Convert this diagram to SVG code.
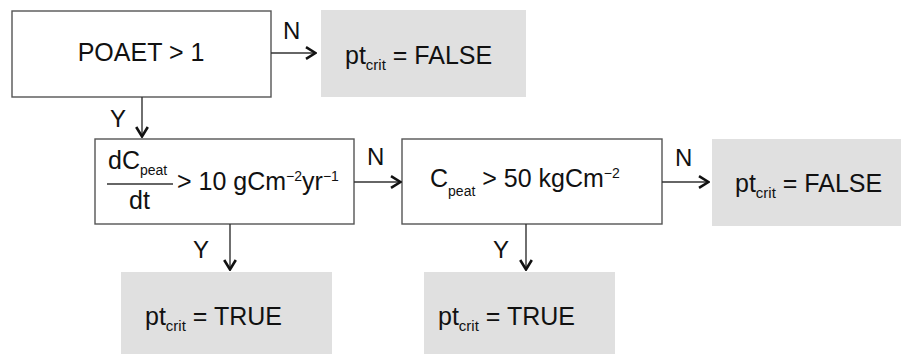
<svg xmlns="http://www.w3.org/2000/svg" width="903" height="354" viewBox="0 0 903 354">
<defs>
<style>
text{font-family:"Liberation Sans",Arial,sans-serif;fill:#111;font-size:25px}
.box{fill:#fff;stroke:#555;stroke-width:1.4}
.res{fill:#e0e0e0;stroke:none}
.con{stroke:#333;stroke-width:1.4;fill:none}
.lbl{font-size:24px}
.sub{font-size:15px}
.sm{font-size:14px}
</style>
<marker id="ah" viewBox="0 0 12 14" markerWidth="12" markerHeight="14" refX="11" refY="7" orient="auto" markerUnits="userSpaceOnUse">
<path d="M1,1.2 L10.5,7 L1,12.8" fill="none" stroke="#111" stroke-width="2.6"/>
</marker>
</defs>
<rect width="903" height="354" fill="#fff"/>
<g id="n1">
<rect class="box" x="12" y="11" width="259" height="86"/>
<text x="141" y="61" text-anchor="middle">POAET &gt; 1</text>
</g>
<g id="r1">
<rect class="res" x="321" y="10" width="205" height="87"/>
<text x="345" y="64">pt<tspan class="sub" dy="6">crit</tspan><tspan dy="-6"> = FALSE</tspan></text>
</g>
<g id="n2">
<rect class="box" x="95" y="139" width="259" height="85"/>
<text x="108" y="169">dC<tspan class="sm" dy="6">peat</tspan></text>
<line x1="107" y1="184" x2="173" y2="184" stroke="#333" stroke-width="1.4"/>
<text x="129" y="209">dt</text>
<text x="177" y="190">&gt; 10 gCm<tspan class="sm" dy="-9">−2</tspan><tspan dy="9">yr</tspan><tspan class="sm" dy="-9">−1</tspan></text>
</g>
<g id="n3">
<rect class="box" x="402" y="139" width="260" height="85"/>
<text x="430" y="187">C<tspan class="sm" dy="9">peat</tspan><tspan dy="-9"> &gt; 50 kgCm</tspan><tspan class="sm" dy="-9">−2</tspan></text>
</g>
<g id="r2">
<rect class="res" x="712" y="139" width="189" height="87"/>
<text x="735" y="192">pt<tspan class="sub" dy="6">crit</tspan><tspan dy="-6"> = FALSE</tspan></text>
</g>
<g id="r3">
<rect class="res" x="121" y="272" width="211" height="87"/>
<text x="145" y="325">pt<tspan class="sub" dy="6">crit</tspan><tspan dy="-6"> = TRUE</tspan></text>
</g>
<g id="r4">
<rect class="res" x="424" y="272" width="191" height="87"/>
<text x="438" y="325">pt<tspan class="sub" dy="6">crit</tspan><tspan dy="-6"> = TRUE</tspan></text>
</g>
<g id="connectors">
<line class="con" x1="271" y1="53" x2="316" y2="53" marker-end="url(#ah)"/>
<line class="con" x1="142" y1="97" x2="142" y2="137" marker-end="url(#ah)"/>
<line class="con" x1="354" y1="182" x2="401" y2="182" marker-end="url(#ah)"/>
<line class="con" x1="662" y1="182" x2="709" y2="182" marker-end="url(#ah)"/>
<line class="con" x1="230" y1="224" x2="230" y2="270" marker-end="url(#ah)"/>
<line class="con" x1="526" y1="224" x2="526" y2="270" marker-end="url(#ah)"/>
<text class="lbl" x="283" y="39">N</text>
<text class="lbl" x="110" y="127">Y</text>
<text class="lbl" x="367" y="165">N</text>
<text class="lbl" x="675" y="166">N</text>
<text class="lbl" x="193" y="258">Y</text>
<text class="lbl" x="493" y="258">Y</text>
</g>
</svg>
